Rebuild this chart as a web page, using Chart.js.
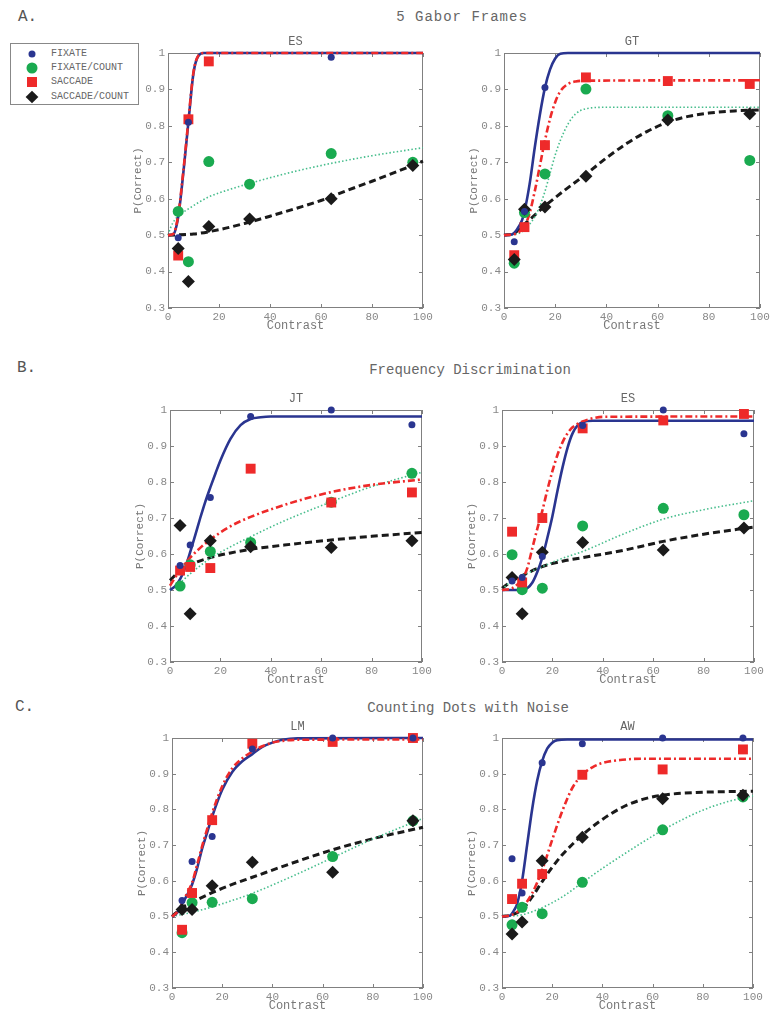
<!DOCTYPE html>
<html>
<head>
<meta charset="utf-8">
<script src="https://cdn.jsdelivr.net/npm/chart.js@4.4.1/dist/chart.umd.min.js"></script>
<style>
  html, body { margin: 0; padding: 0; background: #fff; overflow: hidden; }
  body { width: 781px; height: 1020px; position: relative; font-family: "Liberation Mono", "DejaVu Sans Mono", monospace; }
  canvas { position: absolute; }
  .sec { position: absolute; color: #555; font-size: 16px; line-height: 1; }
  .head { position: absolute; color: #666; font-size: 14px; line-height: 1; white-space: nowrap; transform: translateX(-50%); }
  #legend { position: absolute; left: 10px; top: 43px; width: 127px; height: 60px; border: 1px solid #888; background: #fff; }
  .mk { position: absolute; left: 21px; transform: translate(-50%, -50%); }
  .lt { position: absolute; left: 40px; transform: translateY(-50%); font-size: 10px; color: #666; line-height: 1; white-space: nowrap; }
</style>
</head>
<body>

<div class="sec" style="left:18px; top:9px;">A.</div>
<div class="sec" style="left:17px; top:360px;">B.</div>
<div class="sec" style="left:15px; top:699px;">C.</div>

<div class="head" style="left:462px; top:10px; letter-spacing:1px;">5 Gabor Frames</div>
<div class="head" style="left:470px; top:363px;">Frequency Discrimination</div>
<div class="head" style="left:468px; top:701px;">Counting Dots with Noise</div>

<div id="legend">
  <span class="mk" style="top:10px; width:7px; height:7px; border-radius:50%; background:#2a3590;"></span>
  <span class="lt" style="top:10px;">FIXATE</span>
  <span class="mk" style="top:24px; width:11px; height:11px; border-radius:50%; background:#1aaa50;"></span>
  <span class="lt" style="top:24px;">FIXATE/COUNT</span>
  <span class="mk" style="top:38px; width:10px; height:10px; background:#ee2a2a;"></span>
  <span class="lt" style="top:38px;">SACCADE</span>
  <span class="mk" style="top:53px; width:9px; height:9px; background:#1a1a1a; transform:translate(-50%,-50%) rotate(45deg);"></span>
  <span class="lt" style="top:53px;">SACCADE/COUNT</span>
</div>

<canvas id="gaborES"></canvas>
<canvas id="gaborGT"></canvas>
<canvas id="freqJT"></canvas>
<canvas id="freqES"></canvas>
<canvas id="dotsLM"></canvas>
<canvas id="dotsAW"></canvas>

<script>
// ---------- DATA ----------
const contrast = [4, 8, 16, 32, 64, 96];
const xTicks = [0, 20, 40, 60, 80, 100];
const yTicks = [0.3, 0.4, 0.5, 0.6, 0.7, 0.8, 0.9, 1];

// A. 5 Gabor Frames - ES  (null = point not shown in the figure)
const gaborES_fixate = [0.493, 0.81, null, null, 0.988, null];
const gaborES_fixateCount = [0.565, 0.427, 0.702, 0.640, 0.724, 0.700];
const gaborES_saccade = [0.444, 0.818, 0.977, null, null, null];
const gaborES_saccadeCount = [0.463, 0.373, 0.524, 0.544, 0.600, 0.691];
const gaborES_fixateFit = [[0,0.5],[2,0.502],[4,0.55],[6,0.67],[8,0.81],[10,0.945],[12,0.993],[14,1],[100,1]];
const gaborES_fixateCountFit = [[0,0.5],[1,0.52],[2,0.535],[4,0.552],[8,0.572],[16,0.605],[24,0.625],[32,0.642],[48,0.672],[64,0.697],[80,0.718],[100,0.74]];
const gaborES_saccadeFit = [[0,0.5],[2,0.503],[4,0.555],[6,0.675],[8,0.815],[10,0.948],[12,0.994],[14,1],[100,1]];
const gaborES_saccadeCountFit = [[0,0.5],[10,0.503],[20,0.515],[30,0.532],[40,0.552],[50,0.573],[60,0.595],[70,0.622],[80,0.648],[90,0.675],[100,0.703]];

// A. 5 Gabor Frames - GT
const gaborGT_fixate = [0.482, 0.565, 0.905, null, null, null];
const gaborGT_fixateCount = [0.423, 0.562, 0.668, 0.901, 0.828, 0.705];
const gaborGT_saccade = [0.445, 0.522, 0.747, 0.933, 0.923, 0.915];
const gaborGT_saccadeCount = [0.433, 0.571, 0.577, 0.662, 0.816, 0.833];
const gaborGT_fixateFit = [[0,0.5],[3,0.502],[5,0.515],[7,0.54],[8,0.565],[10,0.64],[12,0.74],[14,0.83],[16,0.905],[18,0.955],[20,0.985],[22,0.998],[25,1],[100,1]];
const gaborGT_fixateCountFit = [[0,0.5],[6,0.505],[10,0.53],[12,0.55],[14,0.58],[16,0.62],[18,0.67],[20,0.72],[22,0.76],[25,0.805],[28,0.833],[32,0.847],[40,0.851],[100,0.851]];
const gaborGT_saccadeFit = [[0,0.5],[5,0.505],[8,0.525],[10,0.56],[12,0.62],[14,0.69],[16,0.76],[18,0.82],[20,0.865],[22,0.895],[25,0.915],[28,0.922],[32,0.924],[100,0.925]];
const gaborGT_saccadeCountFit = [[0,0.5],[4,0.505],[8,0.53],[12,0.555],[16,0.58],[20,0.603],[24,0.625],[32,0.667],[40,0.712],[48,0.752],[56,0.785],[64,0.81],[72,0.826],[80,0.835],[90,0.841],[100,0.844]];

// B. Frequency Discrimination - JT
const freqJT_fixate = [0.568, 0.625, 0.757, 0.982, 1.0, 0.959];
const freqJT_fixateCount = [0.511, 0.57, 0.607, 0.632, 0.744, 0.824];
const freqJT_saccade = [0.554, 0.564, 0.561, 0.837, 0.743, 0.771];
const freqJT_saccadeCount = [0.679, 0.434, 0.637, 0.620, 0.618, 0.637];
const freqJT_fixateFit = [[0,0.5],[2,0.51],[4,0.53],[6,0.562],[8,0.605],[10,0.652],[12,0.7],[14,0.745],[16,0.785],[18,0.823],[20,0.86],[24,0.92],[28,0.958],[32,0.975],[36,0.98],[40,0.982],[100,0.982]];
const freqJT_fixateCountFit = [[0,0.5],[4,0.52],[8,0.545],[16,0.588],[24,0.62],[32,0.648],[40,0.675],[48,0.7],[56,0.723],[64,0.745],[72,0.767],[80,0.787],[90,0.808],[100,0.827]];
const freqJT_saccadeFit = [[0,0.512],[4,0.555],[8,0.59],[12,0.617],[16,0.64],[24,0.677],[32,0.703],[48,0.742],[64,0.772],[80,0.792],[100,0.807]];
const freqJT_saccadeCountFit = [[0,0.527],[4,0.553],[8,0.57],[16,0.59],[24,0.603],[32,0.613],[48,0.627],[64,0.639],[80,0.649],[100,0.66]];

// B. Frequency Discrimination - ES
const freqES_fixate = [0.525, 0.535, 0.593, 0.957, 1.0, 0.934];
const freqES_fixateCount = [0.598, 0.501, 0.505, 0.678, 0.727, 0.709];
const freqES_saccade = [0.662, 0.521, 0.700, 0.949, 0.971, 0.989];
const freqES_saccadeCount = [0.535, 0.434, 0.605, 0.632, 0.611, 0.672];
const freqES_fixateFit = [[0,0.5],[8,0.5],[10,0.505],[12,0.52],[14,0.55],[16,0.59],[18,0.645],[20,0.705],[22,0.775],[24,0.84],[26,0.895],[28,0.935],[30,0.957],[32,0.966],[36,0.97],[100,0.97]];
const freqES_fixateCountFit = [[0,0.5],[2,0.515],[4,0.525],[8,0.54],[16,0.565],[24,0.588],[32,0.607],[48,0.655],[64,0.697],[80,0.723],[100,0.748]];
const freqES_saccadeFit = [[0,0.5],[4,0.505],[6,0.515],[8,0.53],[10,0.56],[12,0.615],[14,0.67],[16,0.72],[18,0.778],[20,0.83],[22,0.875],[24,0.91],[26,0.935],[28,0.952],[32,0.968],[36,0.977],[40,0.981],[100,0.982]];
const freqES_saccadeCountFit = [[0,0.505],[4,0.525],[8,0.54],[16,0.565],[24,0.58],[32,0.59],[48,0.61],[64,0.635],[80,0.655],[100,0.675]];

// C. Counting Dots with Noise - LM
const dotsLM_fixate = [0.545, 0.654, 0.724, 0.969, 1.0, 1.0];
const dotsLM_fixateCount = [0.455, 0.539, 0.540, 0.550, 0.668, 0.768];
const dotsLM_saccade = [0.463, 0.566, 0.770, 0.984, 0.989, 1.0];
const dotsLM_saccadeCount = [0.520, 0.520, 0.586, 0.652, 0.624, 0.768];
const dotsLM_fixateFit = [[0,0.5],[2,0.51],[4,0.536],[6,0.56],[8,0.59],[10,0.635],[12,0.69],[14,0.735],[16,0.78],[20,0.855],[24,0.905],[28,0.935],[32,0.955],[36,0.975],[40,0.987],[44,0.995],[50,0.999],[100,1]];
const dotsLM_fixateCountFit = [[0,0.5],[8,0.512],[16,0.527],[24,0.545],[32,0.565],[48,0.613],[64,0.665],[80,0.717],[100,0.775]];
const dotsLM_saccadeFit = [[0,0.5],[2,0.512],[4,0.538],[6,0.565],[8,0.595],[10,0.645],[12,0.697],[14,0.745],[16,0.79],[20,0.865],[24,0.915],[28,0.943],[32,0.962],[36,0.977],[40,0.987],[44,0.992],[50,0.995],[100,0.996]];
const dotsLM_saccadeCountFit = [[0,0.5],[4,0.525],[8,0.54],[16,0.567],[24,0.59],[32,0.61],[48,0.65],[64,0.687],[80,0.718],[100,0.75]];

// C. Counting Dots with Noise - AW
const dotsAW_fixate = [0.662, 0.566, 0.931, 0.984, 1.0, 1.0];
const dotsAW_fixateCount = [0.477, 0.526, 0.508, 0.596, 0.743, 0.835];
const dotsAW_saccade = [0.549, 0.592, 0.619, 0.897, 0.912, 0.968];
const dotsAW_saccadeCount = [0.451, 0.485, 0.656, 0.722, 0.830, 0.840];
const dotsAW_fixateFit = [[0,0.5],[3,0.502],[5,0.52],[6,0.535],[8,0.6],[10,0.7],[12,0.8],[14,0.88],[16,0.935],[18,0.97],[20,0.987],[22,0.994],[26,0.996],[100,0.996]];
const dotsAW_fixateCountFit = [[0,0.5],[8,0.505],[16,0.525],[24,0.555],[32,0.595],[40,0.635],[48,0.672],[56,0.708],[64,0.742],[72,0.772],[80,0.798],[90,0.822],[100,0.838]];
const dotsAW_saccadeFit = [[0,0.5],[4,0.505],[8,0.525],[12,0.565],[16,0.63],[20,0.715],[24,0.795],[28,0.86],[32,0.897],[36,0.918],[40,0.93],[48,0.939],[56,0.942],[100,0.942]];
const dotsAW_saccadeCountFit = [[0,0.5],[4,0.505],[8,0.52],[12,0.555],[16,0.598],[20,0.638],[24,0.673],[32,0.728],[40,0.772],[48,0.806],[56,0.828],[64,0.84],[80,0.848],[100,0.851]];

// ---------- STYLE ----------
const BLUE = '#2a3590';
const GREEN = '#1aaa50';
const GREEN_LINE = '#46bd8c';
const RED = '#ee2a2a';
const BLACK = '#1a1a1a';
const FONT = 'Liberation Mono';

Chart.defaults.font.family = FONT;
Chart.defaults.color = '#888';

// box + inward tick marks, MATLAB style
const boxTicks = {
  id: 'boxTicks',
  beforeDatasetsDraw(chart) {
    const { ctx, chartArea: a, scales: { x, y } } = chart;
    ctx.save();
    ctx.strokeStyle = '#808080';
    ctx.lineWidth = 1;
    ctx.strokeRect(a.left + 0.5, a.top + 0.5, a.width - 1, a.height - 1);
    ctx.beginPath();
    x.ticks.forEach(t => {
      const px = Math.round(x.getPixelForValue(t.value)) + 0.5;
      ctx.moveTo(px, a.bottom); ctx.lineTo(px, a.bottom - 4);
      ctx.moveTo(px, a.top); ctx.lineTo(px, a.top + 4);
    });
    y.ticks.forEach(t => {
      const py = Math.round(y.getPixelForValue(t.value)) + 0.5;
      ctx.moveTo(a.left, py); ctx.lineTo(a.left + 4, py);
      ctx.moveTo(a.right, py); ctx.lineTo(a.right - 4, py);
    });
    ctx.stroke();
    ctx.restore();
  }
};

function curve(points, color, width, dash, order) {
  return {
    data: points.map(([x, y]) => ({ x, y })),
    showLine: true,
    borderColor: color,
    borderWidth: width,
    borderDash: dash,
    pointRadius: 0,
    cubicInterpolationMode: 'monotone',
    fill: false,
    clip: false,
    order
  };
}

function markers(values, color, style, radius, order) {
  return {
    data: contrast.map((c, i) => ({ x: c, y: values[i] })),
    showLine: false,
    pointStyle: style,
    pointRadius: radius,
    backgroundColor: color,
    borderColor: color,
    borderWidth: 0,
    clip: false,
    order
  };
}

// PANEL
function makePanel(id, rect, title, s) {
  const canvas = document.getElementById(id);
  const padRight = 20, yAxisW = 60, topH = 40, bottomH = 32;
  canvas.width = rect.R - rect.L + yAxisW + padRight;
  canvas.height = rect.B - rect.T + topH + bottomH;
  canvas.style.left = (rect.L - yAxisW) + 'px';
  canvas.style.top = (rect.T - topH) + 'px';

  new Chart(canvas, {
    type: 'scatter',
    data: {
      datasets: [
        curve(s.saccadeCountFit, BLACK, 3, [7, 4], 13),
        curve(s.fixateCountFit, GREEN_LINE, 1.6, [1.5, 2.2], 12),
        curve(s.fixateFit, BLUE, 2.6, [], 11),
        curve(s.saccadeFit, RED, 2.6, [7, 3, 2, 3], 10),
        markers(s.fixateCount, GREEN, 'circle', 5.5, 4),
        markers(s.saccade, RED, 'rect', 7, 3),
        markers(s.saccadeCount, BLACK, 'rectRot', 6.5, 2),
        markers(s.fixate, BLUE, 'circle', 3.5, 1)
      ]
    },
    options: {
      responsive: false,
      animation: false,
      events: [],
      layout: { padding: { left: 0, right: padRight, top: 0, bottom: 0 } },
      plugins: { legend: { display: false }, tooltip: { enabled: false } },
      scales: {
        x: {
          type: 'linear', position: 'bottom', min: 0, max: 100,
          afterBuildTicks: sc => { sc.ticks = xTicks.map(v => ({ value: v })); },
          afterFit: sc => { sc.height = bottomH; },
          grid: { display: false, drawTicks: false },
          border: { display: false },
          ticks: { font: { size: 11 }, color: '#888', padding: 2, maxRotation: 0, autoSkip: false, callback: v => String(v) },
          title: { display: true, text: 'Contrast', color: '#777', font: { size: 12, lineHeight: 1 }, padding: { top: 0, bottom: 8 } }
        },
        xTop: {
          type: 'linear', axis: 'x', position: 'top', min: 0, max: 100,
          afterFit: sc => { sc.height = topH; },
          grid: { display: false, drawTicks: false },
          border: { display: false },
          ticks: { display: false },
          title: { display: true, text: title, color: '#666', font: { size: 12, lineHeight: 1 }, padding: { top: 23, bottom: 0 } }
        },
        y: {
          type: 'linear', position: 'left', min: 0.3, max: 1,
          afterBuildTicks: sc => { sc.ticks = yTicks.map(v => ({ value: v })); },
          afterFit: sc => { sc.width = yAxisW; },
          grid: { display: false, drawTicks: false },
          border: { display: false },
          ticks: { font: { size: 11 }, color: '#888', padding: 3, callback: v => (v === 1 ? '1' : v.toFixed(1)) },
          title: { display: true, text: 'P(Correct)', color: '#777', font: { size: 11, lineHeight: 1 }, padding: { top: 24.5, bottom: 0 } }
        }
      }
    },
    plugins: [boxTicks]
  });
}

makePanel('gaborES', { L: 168, T: 53, R: 423, B: 308 }, 'ES', {
  fixate: gaborES_fixate, fixateCount: gaborES_fixateCount, saccade: gaborES_saccade, saccadeCount: gaborES_saccadeCount,
  fixateFit: gaborES_fixateFit, fixateCountFit: gaborES_fixateCountFit, saccadeFit: gaborES_saccadeFit, saccadeCountFit: gaborES_saccadeCountFit
});
makePanel('gaborGT', { L: 504, T: 53, R: 760, B: 308 }, 'GT', {
  fixate: gaborGT_fixate, fixateCount: gaborGT_fixateCount, saccade: gaborGT_saccade, saccadeCount: gaborGT_saccadeCount,
  fixateFit: gaborGT_fixateFit, fixateCountFit: gaborGT_fixateCountFit, saccadeFit: gaborGT_saccadeFit, saccadeCountFit: gaborGT_saccadeCountFit
});
makePanel('freqJT', { L: 170, T: 410, R: 422, B: 662 }, 'JT', {
  fixate: freqJT_fixate, fixateCount: freqJT_fixateCount, saccade: freqJT_saccade, saccadeCount: freqJT_saccadeCount,
  fixateFit: freqJT_fixateFit, fixateCountFit: freqJT_fixateCountFit, saccadeFit: freqJT_saccadeFit, saccadeCountFit: freqJT_saccadeCountFit
});
makePanel('freqES', { L: 502, T: 410, R: 754, B: 662 }, 'ES', {
  fixate: freqES_fixate, fixateCount: freqES_fixateCount, saccade: freqES_saccade, saccadeCount: freqES_saccadeCount,
  fixateFit: freqES_fixateFit, fixateCountFit: freqES_fixateCountFit, saccadeFit: freqES_saccadeFit, saccadeCountFit: freqES_saccadeCountFit
});
makePanel('dotsLM', { L: 172, T: 738, R: 423, B: 988 }, 'LM', {
  fixate: dotsLM_fixate, fixateCount: dotsLM_fixateCount, saccade: dotsLM_saccade, saccadeCount: dotsLM_saccadeCount,
  fixateFit: dotsLM_fixateFit, fixateCountFit: dotsLM_fixateCountFit, saccadeFit: dotsLM_saccadeFit, saccadeCountFit: dotsLM_saccadeCountFit
});
makePanel('dotsAW', { L: 502, T: 738, R: 753, B: 988 }, 'AW', {
  fixate: dotsAW_fixate, fixateCount: dotsAW_fixateCount, saccade: dotsAW_saccade, saccadeCount: dotsAW_saccadeCount,
  fixateFit: dotsAW_fixateFit, fixateCountFit: dotsAW_fixateCountFit, saccadeFit: dotsAW_saccadeFit, saccadeCountFit: dotsAW_saccadeCountFit
});
</script>
</body>
</html>
